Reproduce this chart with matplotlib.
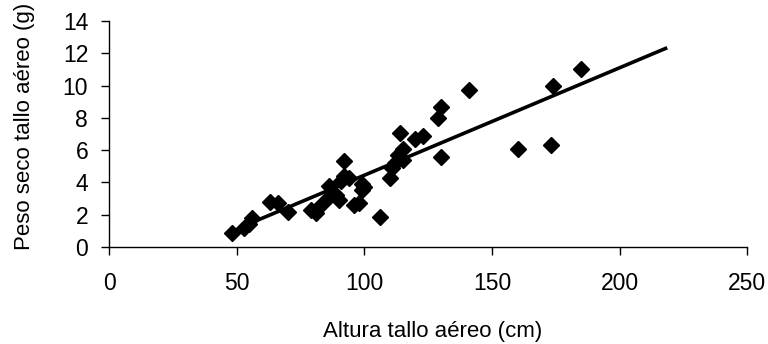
import matplotlib
matplotlib.use("Agg")
import matplotlib.pyplot as plt

# Altura tallo aereo (cm) vs peso seco tallo aereo (g)
altura = [48, 53, 55, 56, 63, 66, 70, 79, 81, 83, 86, 86, 89, 90, 91, 92, 92,
          94, 96, 98, 99, 99, 100, 106, 110, 111, 112, 113, 114, 115, 115,
          120, 123, 129, 130, 130, 141, 160, 173, 174, 185]
peso = [0.85, 1.15, 1.4, 1.8, 2.8, 2.7, 2.15, 2.3, 2.1, 2.6, 3.1, 3.8, 3.2,
        2.9, 4.1, 4.4, 5.3, 4.3, 2.6, 2.75, 3.5, 3.9, 3.7, 1.85, 4.3, 4.9,
        5.2, 5.7, 7.05, 6.1, 5.4, 6.7, 6.85, 8.0, 8.7, 5.6, 9.7, 6.1, 6.3,
        10.0, 11.0]

# linear trend line (Excel style, extended forward)
trend_x = [55, 218]
trend_y = [1.45, 12.3]

x_ticks = [0, 50, 100, 150, 200, 250]
y_ticks = [0, 2, 4, 6, 8, 10, 12, 14]

plt.rcParams['font.family'] = ['Liberation Sans', 'DejaVu Sans']

fig = plt.figure(figsize=(7.68, 3.44), dpi=100)
ax = fig.add_axes([0.142, 0.282, 0.831, 0.657])

ax.plot(altura, peso, 'D', color='black', markersize=8, zorder=3)
ax.plot(trend_x, trend_y, '-', color='black', linewidth=2.6, zorder=2)

ax.set_xlim(0, 250)
ax.set_ylim(0, 14)
ax.set_xticks(x_ticks)
ax.set_yticks(y_ticks)

for side in ['top', 'right']:
    ax.spines[side].set_visible(False)
for side in ['left', 'bottom']:
    ax.spines[side].set_linewidth(1.0)

ax.tick_params(direction='out', length=6, width=1.0, labelsize=16.5, pad=9)
ax.tick_params(axis='x', pad=12)

ax.set_xlabel("Altura tallo aéreo (cm)", fontsize=16)
ax.set_ylabel("Peso seco tallo aéreo (g)", fontsize=16)
ax.xaxis.set_label_coords(0.507, -0.376)
ax.xaxis.label.set_va('center')
ax.yaxis.set_label_coords(-0.132, 0.535)
ax.yaxis.label.set_va('center')

plt.savefig("out.png", dpi=100)
plt.close()
